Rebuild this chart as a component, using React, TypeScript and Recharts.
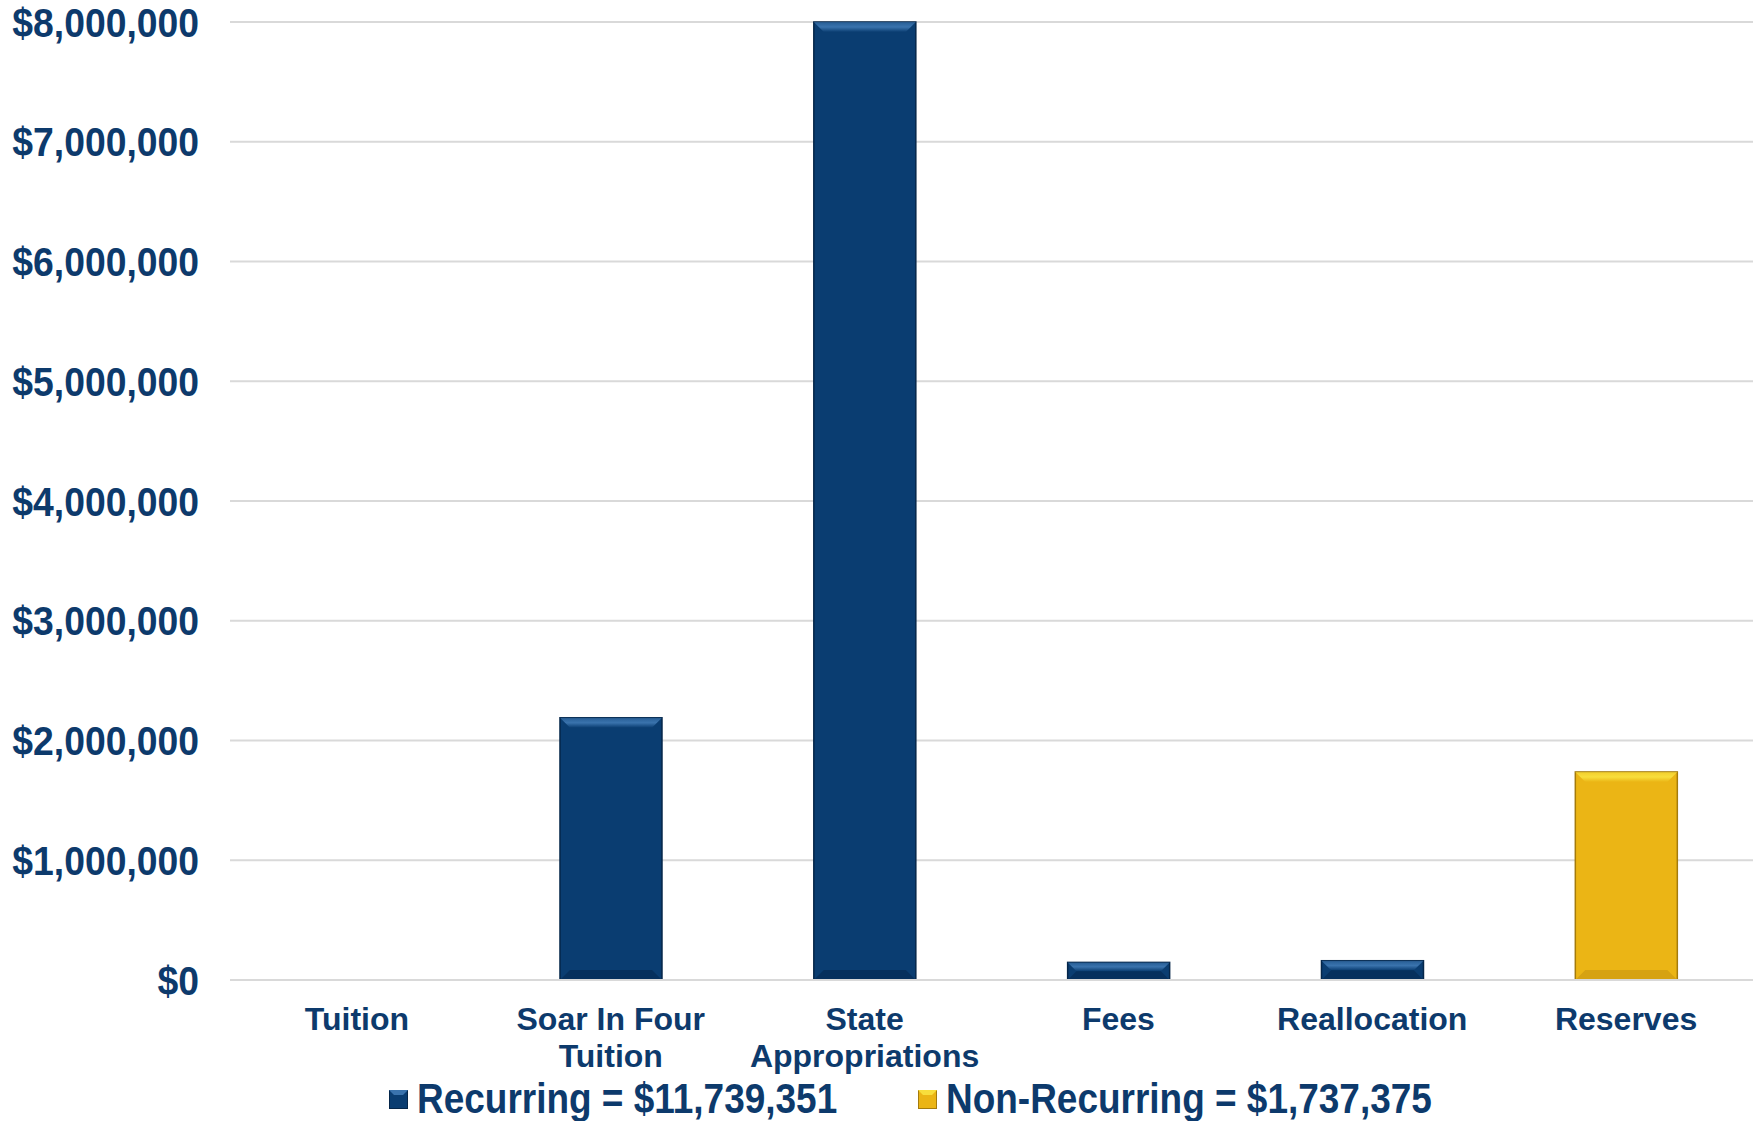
import React from 'react'
import { BarChart, Bar, XAxis, YAxis, CartesianGrid } from 'recharts'

const CATEGORIES = ['Tuition', 'Soar In Four\nTuition', 'State\nAppropriations', 'Fees', 'Reallocation', 'Reserves']
const RECURRING = [0, 2190000, 8000000, 147000, 161000, 0]
const NON_RECURRING = [0, 0, 0, 0, 0, 1737375]
const Y_TICKS = [0, 1000000, 2000000, 3000000, 4000000, 5000000, 6000000, 7000000, 8000000]
const LEGEND = [
  { label: 'Recurring = $11,739,351', key: 'recurring', left: 389 },
  { label: 'Non-Recurring = $1,737,375', key: 'nonRecurring', left: 918 },
]

const TEXT = '#0d3a6c'
const FONT = "'Liberation Sans', Arial, sans-serif"
const PALETTE: Record<string, { fill: string; top: string; bottom: string; edge: string }> = {
  recurring: { fill: '#0a3d71', top: '#3a73ad', bottom: '#06305d', edge: '#052649' },
  nonRecurring: { fill: '#ebb515', top: '#f8de3c', bottom: '#d6a212', edge: '#a47b0c' },
}

const data = CATEGORIES.map((name, i) => ({
  name,
  recurring: RECURRING[i],
  nonRecurring: NON_RECURRING[i],
}))

const fmtMoney = (v: number) => '$' + v.toLocaleString('en-US')

function bevelShape(key: string) {
  return (props: any) => {
    const { x, y, width, height } = props
    if (!height || height <= 0) return <g />
    const c = PALETTE[key]
    const b = Math.min(10, height / 2)
    const gid = 'top-' + key
    return (
      <g>
        <defs>
          <linearGradient id={gid} x1="0" y1="0" x2="0" y2="1">
            <stop offset="0%" stopColor={c.top} stopOpacity={0.6} />
            <stop offset="50%" stopColor={c.top} />
            <stop offset="100%" stopColor={c.fill} />
          </linearGradient>
        </defs>
        <rect x={x} y={y} width={width} height={height} fill={c.fill} stroke={c.edge} strokeWidth={1.5} />
        <polygon
          points={`${x},${y} ${x + width},${y} ${x + width - b},${y + b} ${x + b},${y + b}`}
          fill={`url(#${gid})`}
        />
        <polygon
          points={`${x},${y + height} ${x + width},${y + height} ${x + width - b},${y + height - b} ${x + b},${y + height - b}`}
          fill={c.bottom}
        />
      </g>
    )
  }
}

function XTick(props: any) {
  const { x, y, payload } = props
  const lines = String(payload.value).split('\n')
  return (
    <text x={x} y={y + 50} textAnchor="middle" fill={TEXT} fontSize={32} fontWeight="bold" fontFamily={FONT}>
      {lines.map((l, i) => (
        <tspan key={i} x={x} dy={i === 0 ? 0 : 37}>{l}</tspan>
      ))}
    </text>
  )
}

function YTick(props: any) {
  const { x, y, payload } = props
  return (
    <text transform={`translate(${x},${y}) scale(0.91,1)`} textAnchor="end" dy="0.355em" fill={TEXT}
      fontSize={41} fontWeight="bold" fontFamily={FONT}>
      {fmtMoney(payload.value)}
    </text>
  )
}

function Marker({ k }: { k: string }) {
  const c = PALETTE[k]
  return (
    <svg width={19} height={19} style={{ position: 'absolute', left: 0, top: 14 }}>
      <rect x={0.5} y={0.5} width={18} height={18} fill={c.fill} stroke={c.edge} />
      <polygon points="0,0 19,0 14,5 5,5" fill={c.top} />
    </svg>
  )
}

export default function App() {
  return (
    <div style={{ position: 'absolute', left: 0, top: 0, width: 1756, height: 1121, background: '#fff', overflow: 'hidden' }}>
      <BarChart width={1756} height={1121} data={data} margin={{ top: 22, right: 3, bottom: 0, left: 0 }}
        barCategoryGap="30%">
        <CartesianGrid vertical={false} stroke="#d9d9d9" strokeWidth={2} />
        <XAxis dataKey="name" height={141} tick={<XTick />} tickLine={false} tickSize={0} tickMargin={0}
          axisLine={{ stroke: '#d9d9d9', strokeWidth: 2 }} interval={0} />
        <YAxis width={230} domain={[0, 8000000]} ticks={Y_TICKS} tick={<YTick />}
          axisLine={false} tickLine={false} tickSize={0} tickMargin={31} />
        <Bar dataKey="recurring" stackId="a" shape={bevelShape('recurring')} isAnimationActive={false} />
        <Bar dataKey="nonRecurring" stackId="a" shape={bevelShape('nonRecurring')} isAnimationActive={false} />
      </BarChart>
      {LEGEND.map((item) => (
        <div key={item.key} style={{ position: 'absolute', left: item.left, top: 1076, height: 46 }}>
          <Marker k={item.key} />
          <span style={{ position: 'absolute', left: 28, top: 0, whiteSpace: 'nowrap', fontFamily: FONT,
            fontWeight: 'bold', fontSize: 42, lineHeight: '46px', color: TEXT,
            transform: 'scaleX(0.88)', transformOrigin: 'left center' }}>{item.label}</span>
        </div>
      ))}
    </div>
  )
}
